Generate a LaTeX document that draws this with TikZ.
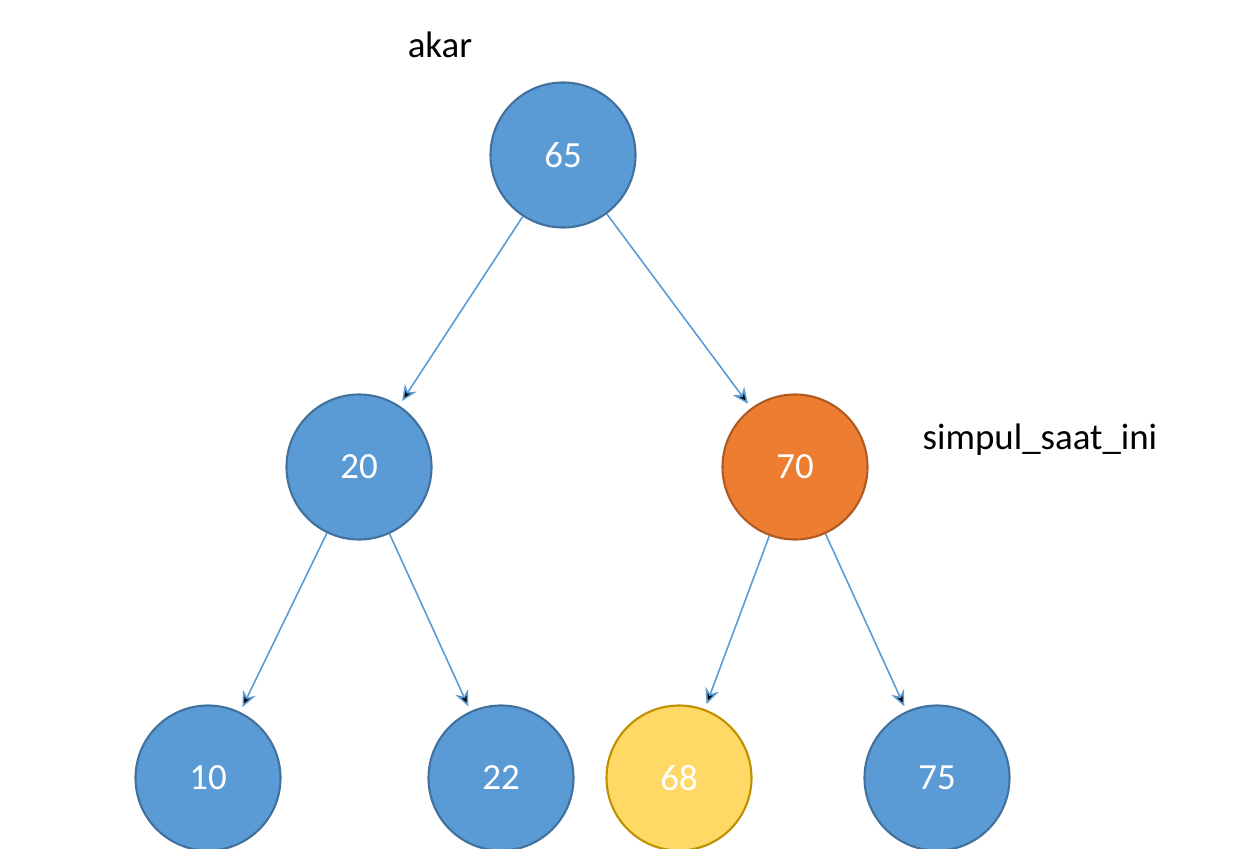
\documentclass[tikz,border=0pt]{standalone}
\usepackage{fontspec}
\setmainfont{Carlito}
\usepackage{tikz}
\usetikzlibrary{positioning, arrows.meta}
\definecolor{nodeblue}{HTML}{5B9BD5}
\definecolor{lineblue}{HTML}{41719C}
\definecolor{nodeorange}{HTML}{ED7D31}
\definecolor{lineorange}{HTML}{AE5A21}
\definecolor{nodeyellow}{HTML}{FFD966}
\definecolor{lineyellow}{HTML}{BF9000}
\begin{document}
\begin{tikzpicture}[>={Stealth[length=9pt, width=8pt]}, shorten >=3pt,
  key/.style={circle, minimum size=2.9cm, draw=lineblue, fill=nodeblue, line width=1.2pt, text=white, font=\fontsize{21}{24}\selectfont},
  label/.style={font=\fontsize{21}{24}\selectfont}]
			\useasboundingbox (0,0) rectangle (24.96,16.96);
			\node[key]											(A) at (11.26,13.86)	{65};
			\node[key]											(B) at (7.18,7.62)		{20};
			\node[key, fill=nodeorange, draw=lineorange]		(C) at (15.90,7.62)		{70};
			\node[key]											(D) at (4.16,1.40)		{10};
			\node[key]											(E) at (10.02,1.40)		{22};
			\node[key, fill=nodeyellow, draw=lineyellow]		(F) at (13.58,1.40)		{68};
			\node[key]											(G) at (18.74,1.40)		{75};
			\node[label]										(R) at (8.80,16.06)		{akar};
			\node[label]										(S) at (20.80,8.16)		{simpul\_saat\_ini};

			%Anak-anak:
			\path[->, draw=nodeblue, line width=0.9pt]
			(A) edge (B)
			(A) edge (C)
			(B) edge (D)
			(B) edge (E)
			(C) edge (F)
			(C) edge (G);
		\end{tikzpicture}
\end{document}
